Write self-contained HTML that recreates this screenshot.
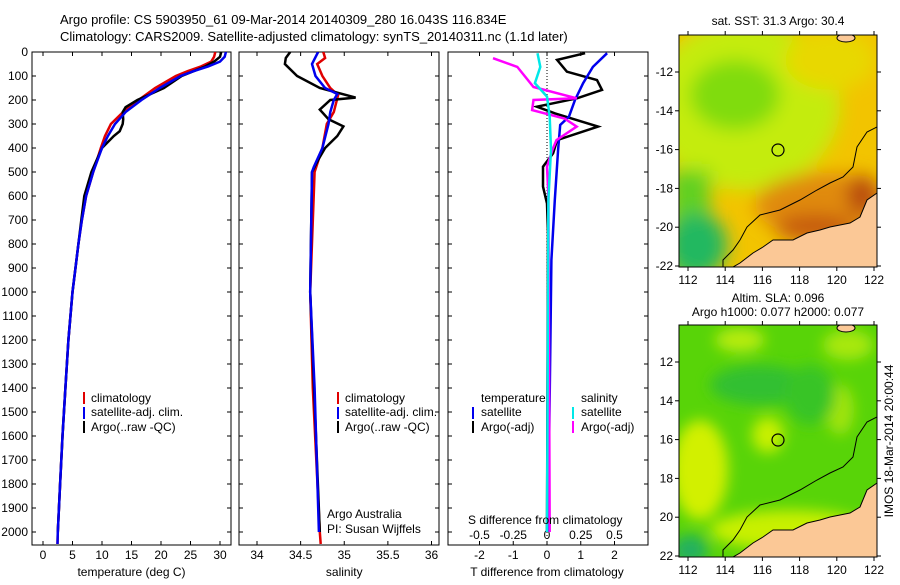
<!DOCTYPE html>
<html><head><meta charset="utf-8"><style>
body{margin:0;background:#fff;}
svg text{font-family:"Liberation Sans",sans-serif;fill:#000;}
</style></head><body>
<svg id="fig" width="900" height="580" viewBox="0 0 900 580" xmlns="http://www.w3.org/2000/svg">
<defs>
<filter id="blr" x="-50%" y="-50%" width="200%" height="200%"><feGaussianBlur stdDeviation="7"/></filter>
<filter id="blr2" x="-50%" y="-50%" width="200%" height="200%"><feGaussianBlur stdDeviation="9"/></filter>
<clipPath id="c1"><rect x="679" y="35" width="198" height="232"/></clipPath>
<clipPath id="c2"><rect x="679" y="325" width="198" height="232"/></clipPath>
<clipPath id="p1"><rect x="32" y="52" width="199" height="493"/></clipPath>
<clipPath id="p2"><rect x="239" y="52" width="200" height="493"/></clipPath>
<clipPath id="p3"><rect x="448" y="52" width="200" height="493"/></clipPath>
</defs>
<text x="60" y="24" font-size="13">Argo profile: CS 5903950_61 09-Mar-2014 20140309_280 16.043S 116.834E</text>
<text x="60" y="41" font-size="13">Climatology: CARS2009. Satellite-adjusted climatology: synTS_20140311.nc (1.1d later)</text>

<g id="axes"></g>
<g id="series"></g>

<!-- legends -->
<g font-size="12">
<rect x="83" y="392" width="2" height="12" fill="#e00000"/><text x="91" y="402">climatology</text>
<rect x="83" y="407" width="2" height="12" fill="#0000ee"/><text x="91" y="416">satellite-adj. clim.</text>
<rect x="83" y="421" width="2" height="12" fill="#000"/><text x="91" y="431">Argo(..raw -QC)</text>
</g>
<g font-size="12">
<rect x="337" y="392" width="2" height="12" fill="#e00000"/><text x="345" y="402">climatology</text>
<rect x="337" y="407" width="2" height="12" fill="#0000ee"/><text x="345" y="416">satellite-adj. clim.</text>
<rect x="337" y="421" width="2" height="12" fill="#000"/><text x="345" y="431">Argo(..raw -QC)</text>
<text x="327" y="518">Argo Australia</text>
<text x="327" y="533">PI: Susan Wijffels</text>
</g>
<g font-size="12">
<text x="481" y="402">temperature</text><text x="581" y="402">salinity</text>
<rect x="472" y="407" width="2" height="12" fill="#0000ee"/><text x="481" y="416">satellite</text>
<rect x="472" y="421" width="2" height="12" fill="#000"/><text x="481" y="431">Argo(-adj)</text>
<rect x="572" y="407" width="2" height="12" fill="#00e8e8"/><text x="581" y="416">satellite</text>
<rect x="572" y="421" width="2" height="12" fill="#ff00ff"/><text x="581" y="431">Argo(-adj)</text>
<text x="468" y="524">S difference from climatology</text>
</g>

<!-- map 1 -->
<text x="778" y="25" font-size="12" text-anchor="middle">sat. SST: 31.3 Argo: 30.4</text>
<g clip-path="url(#c1)">
<rect x="679" y="35" width="198" height="232" fill="#f2c400"/>
<g filter="url(#blr2)">
<ellipse cx="745" cy="105" rx="95" ry="85" fill="#c4ec10"/>
<ellipse cx="735" cy="95" rx="45" ry="35" fill="#80dc10"/>
<ellipse cx="830" cy="60" rx="45" ry="30" fill="#e8d800"/>
<rect x="670" y="170" width="40" height="110" fill="#60d020"/>
<ellipse cx="697" cy="245" rx="30" ry="32" fill="#20b860"/>
<ellipse cx="825" cy="205" rx="70" ry="32" fill="#e08a10"/>
<ellipse cx="815" cy="228" rx="40" ry="14" fill="#c65a08"/>
<ellipse cx="862" cy="195" rx="15" ry="20" fill="#b84808"/>
</g>
<circle cx="778" cy="150" r="6" fill="none" stroke="#000" stroke-width="1.2"/>
<polygon points="877,193 867,200 860,217 850,223 830,227 820,230 807,233 793,240 773,240 763,247 753,253 740,263 733,267 877,267" fill="#fbc896" stroke="#000" stroke-width="1"/>
<polyline points="877,127 867,132 857,147 853,167 843,177 830,183 817,190 800,200 780,210 760,215 747,227 740,240 733,250 723,260 723,267" fill="none" stroke="#000" stroke-width="1"/>
<ellipse cx="846" cy="38" rx="9" ry="4" fill="#fbc896" stroke="#000"/>
</g>
<rect x="679" y="35" width="198" height="232" fill="none" stroke="#000"/>

<!-- map 2 -->
<text x="778" y="302" font-size="12" text-anchor="middle">Altim. SLA: 0.096</text>
<text x="778" y="316" font-size="12" text-anchor="middle">Argo h1000: 0.077 h2000: 0.077</text>
<g clip-path="url(#c2)">
<rect x="679" y="325" width="198" height="232" fill="#58d408"/>
<g filter="url(#blr)">
<ellipse cx="740" cy="340" rx="25" ry="12" fill="#b8ec10"/>
<ellipse cx="848" cy="345" rx="25" ry="15" fill="#a8e810"/>
<ellipse cx="700" cy="470" rx="28" ry="50" fill="#d2f000"/>
<ellipse cx="768" cy="435" rx="16" ry="18" fill="#c8f000"/>
<ellipse cx="840" cy="410" rx="14" ry="25" fill="#a0e410"/>
<ellipse cx="760" cy="385" rx="50" ry="20" fill="#30c030"/>
<ellipse cx="810" cy="395" rx="25" ry="30" fill="#38c428"/>
<ellipse cx="790" cy="530" rx="80" ry="20" fill="#c8f000"/>
<ellipse cx="690" cy="550" rx="18" ry="15" fill="#20b060"/>
</g>
<circle cx="778" cy="440" r="6" fill="none" stroke="#000" stroke-width="1.2"/>
<polygon points="877,483 867,490 860,507 850,513 830,517 820,520 807,523 793,530 773,530 763,537 753,543 740,553 733,557 877,557" fill="#fbc896" stroke="#000" stroke-width="1"/>
<polyline points="877,417 867,422 857,437 853,457 843,467 830,473 817,480 800,490 780,500 760,505 747,517 740,530 733,540 723,550 723,557" fill="none" stroke="#000" stroke-width="1"/>
<ellipse cx="846" cy="328" rx="9" ry="4" fill="#fbc896" stroke="#000"/>
</g>
<rect x="679" y="325" width="198" height="232" fill="none" stroke="#000"/>
<text transform="translate(893,441) rotate(-90)" font-size="12" text-anchor="middle">IMOS 18-Mar-2014 20:00:44</text>

<script>
// ---- data ----
const depthTicks=[0,100,200,300,400,500,600,700,800,900,1000,1100,1200,1300,1400,1500,1600,1700,1800,1900,2000];
const tempTicks=[0,5,10,15,20,25,30];
const salTicks=[34,34.5,35,35.5,36];
const tdiffTicks=[-2,-1,0,1,2];
const sdiffTicks=[-0.5,-0.25,0,0.25,0.5];
const sdiffTickLabels=["-0.5","-0.25","0","0.25","0.5"];
const lonTicks=[112,114,116,118,120,122];
const latTicks=[12,14,16,18,20,22];

const tClimDepth=[0,20,40,60,80,100,150,200,250,300,350,400,500,600,700,800,900,1000,1200,1400,1600,1800,2000,2050];
const tClim=[29.2,29.0,28.5,26.8,24.5,22.5,19,16.2,13.6,11.5,10.5,9.8,8.5,7.3,6.6,6.0,5.5,5.0,4.3,3.8,3.3,2.9,2.5,2.45];
const tSatDepth=[0,20,40,60,80,100,150,200,250,300,350,400,500,600,700,800,900,1000,1200,1400,1600,1800,2000,2050];
const tSat=[31,30.8,30,28,25.5,23.3,19.8,16.7,14,12.2,11,10,8.5,7.3,6.6,6.0,5.5,5.0,4.3,3.8,3.3,2.9,2.5,2.45];
const tArgoDepth=[0,20,40,60,80,100,150,200,230,250,280,300,330,350,400,500,600,700,800,1000,1200,1400,1600,1800,2000];
const tArgo=[30.2,30,29,27.5,25.5,23.5,20.5,16,14,13.5,13.6,13.5,13,12,10,8.2,7.0,6.5,6.0,5.0,4.3,3.8,3.3,2.9,2.5];

const sClimDepth=[0,25,50,100,150,180,250,300,400,500,1000,1400,2000,2050];
const sClim=[34.76,34.78,34.69,34.75,34.84,34.93,34.88,34.8,34.75,34.66,34.61,34.64,34.72,34.73];
const sSatDepth=[0,50,100,150,175,200,250,300,400,480,500,1000,1400,2000];
const sSat=[34.7,34.63,34.67,34.78,34.92,34.88,34.84,34.82,34.75,34.65,34.63,34.61,34.66,34.71];
const sArgoDepth=[0,25,50,100,150,190,200,240,280,310,350,400,450,500,1000,2000];
const sArgo=[34.38,34.33,34.32,34.46,34.72,35.13,34.84,34.72,34.82,34.99,34.92,34.78,34.7,34.63,34.61,34.72];

const dtSatDepth=[5,62,130,200,270,304,408,617,867,2000];
const dtSat=[1.78,1.36,1.07,0.83,0.65,0.39,0.33,0.23,0.13,0.03];
const dtArgoDepth=[5,33,82,117,158,193,228,256,311,367,422,478,561,631,756,2000];
const dtArgo=[1.13,0.3,0.59,1.48,1.63,0.89,-0.3,0.24,1.51,0.3,0.18,-0.12,-0.12,0,0.03,0];
const dsArgoDepth=[26,62,146,193,200,242,277,311,367,408,478,600,2000];
const dsArgo=[-0.4,-0.22,-0.1,0.22,-0.1,-0.11,0.13,0.22,0.07,0.04,0,0.01,0.02];
const dsSatDepth=[5,62,130,186,270,408,617,2000];
const dsSat=[-0.07,-0.05,-0.09,0,0.02,0.03,0.01,0];

// ---- scales ----
const Y=d=>52+d*0.24;
const xT=v=>43+v*5.9;
const xS=v=>257+(v-34)*87.25;
const xDT=v=>547+v*33.75;
const xDS=v=>547+v*135;
const lonX=l=>688+(l-112)*18.6;
const latY1=l=>72+(l-12)*19.4;
const latY2=l=>362+(l-12)*19.4;

const NS="http://www.w3.org/2000/svg";
const axes=document.getElementById('axes');
const series=document.getElementById('series');
function mk(tag,attrs,parent){const e=document.createElementNS(NS,tag);for(const k in attrs)e.setAttribute(k,attrs[k]);parent.appendChild(e);return e;}

// panels
const panels=[[32,199,'temperature-panel'],[239,200,'salinity-panel'],[448,200,'difference-panel']];
panels.forEach(p=>{
  const r=mk('rect',{x:p[0],y:52,width:p[1],height:493,fill:'none',stroke:'#000'},axes);
  
  
  depthTicks.forEach(d=>{
    mk('line',{x1:p[0],x2:p[0]+4,y1:Y(d),y2:Y(d),stroke:'#000'},axes);
    mk('line',{x1:p[0]+p[1]-4,x2:p[0]+p[1],y1:Y(d),y2:Y(d),stroke:'#000'},axes);
  });
});
depthTicks.forEach(d=>{
  const t=mk('text',{x:28,y:Y(d)+4,'font-size':12,'text-anchor':'end'},axes);
  t.textContent=d;
  
  
});
function xticks(ticks,fx,labels,yl,name){
  ticks.forEach((v,i)=>{
    mk('line',{x1:fx(v),x2:fx(v),y1:545,y2:541,stroke:'#000'},axes);
    mk('line',{x1:fx(v),x2:fx(v),y1:52,y2:56,stroke:'#000'},axes);
    const t=mk('text',{x:fx(v),y:yl,'font-size':12,'text-anchor':'middle'},axes);
    t.textContent=labels?labels[i]:v;
    
    
  });
}
xticks(tempTicks,xT,null,559,'temperature-tick-label');
xticks(salTicks,xS,null,559,'salinity-tick-label');
xticks(tdiffTicks,xDT,null,559,'t-diff-tick-label');
sdiffTicks.forEach((v,i)=>{
  const t=mk('text',{x:xDS(v),y:539,'font-size':12,'text-anchor':'middle'},axes);
  t.textContent=sdiffTickLabels[i];
  
  
});
[['temperature (deg C)',xT(15),'temperature-axis-title'],['salinity',xS(35),'salinity-axis-title'],['T difference from climatology',xDT(0),'t-diff-axis-title']].forEach(a=>{
  const t=mk('text',{x:a[1],y:576,'font-size':12,'text-anchor':'middle'},axes);
  t.textContent=a[0];
  
  
});
// zero dotted line
mk('line',{x1:xDT(0),x2:xDT(0),y1:52,y2:545,stroke:'#000','stroke-dasharray':'1,2'},axes);

function line(depths,vals,fx,color,clip,name){
  const pts=depths.map((d,i)=>fx(vals[i]).toFixed(1)+','+Y(d).toFixed(1)).join(' ');
  const p=mk('polyline',{points:pts,fill:'none',stroke:color,'stroke-width':2.5,'clip-path':'url(#'+clip+')'},series);
  
  
}
line(tClimDepth,tClim,xT,'#e00000','p1','temperature-climatology-line');
line(tArgoDepth,tArgo,xT,'#000','p1','temperature-argo-line');
line(tSatDepth,tSat,xT,'#0000ee','p1','temperature-satellite-line');
line(sClimDepth,sClim,xS,'#e00000','p2','salinity-climatology-line');
line(sArgoDepth,sArgo,xS,'#000','p2','salinity-argo-line');
line(sSatDepth,sSat,xS,'#0000ee','p2','salinity-satellite-line');
line(dtArgoDepth,dtArgo,xDT,'#000','p3','t-diff-argo-line');
line(dtSatDepth,dtSat,xDT,'#0000ee','p3','t-diff-satellite-line');
line(dsArgoDepth,dsArgo,xDS,'#ff00ff','p3','s-diff-argo-line');
line(dsSatDepth,dsSat,xDS,'#00e8e8','p3','s-diff-satellite-line');

// map ticks
[[35,267,latY1,'-'],[325,557,latY2,'']].forEach(m=>{
  lonTicks.forEach(l=>{
    mk('line',{x1:lonX(l),x2:lonX(l),y1:m[1],y2:m[1]+4,stroke:'#000'},axes);
    mk('line',{x1:lonX(l),x2:lonX(l),y1:m[0],y2:m[0]-4,stroke:'#000'},axes);
    const t=mk('text',{x:lonX(l),y:m[1]+17,'font-size':12,'text-anchor':'middle'},axes);
    t.textContent=l;
    
    
  });
  latTicks.forEach(l=>{
    mk('line',{x1:675,x2:679,y1:m[2](l),y2:m[2](l),stroke:'#000'},axes);
    mk('line',{x1:877,x2:881,y1:m[2](l),y2:m[2](l),stroke:'#000'},axes);
    const t=mk('text',{x:673,y:m[2](l)+4,'font-size':12,'text-anchor':'end'},axes);
    t.textContent=m[3]+l;
    
    
  });
});
</script>
</svg>
</body></html>
